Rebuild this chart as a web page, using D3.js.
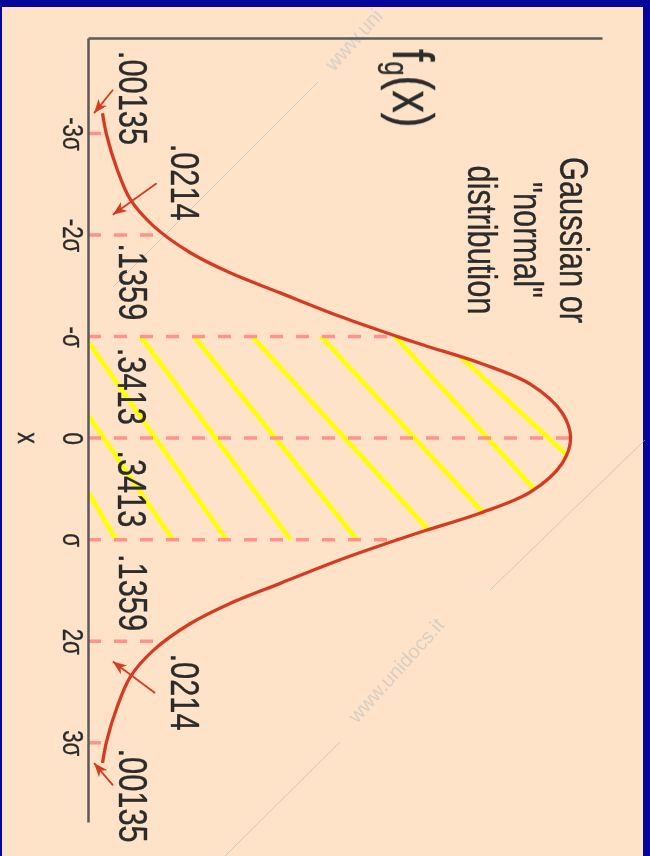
<!DOCTYPE html>
<html>
<head>
<meta charset="utf-8">
<script src="https://cdn.jsdelivr.net/npm/d3@7"></script>
<style>
html, body { margin: 0; padding: 0; background: #05059a; }
svg { display: block; }
text { font-family: "Liberation Sans", Arial, Helvetica, sans-serif; fill: #2b2b2b; stroke: #2b2b2b; stroke-width: 0.35; }
</style>
</head>
<body>
<svg id="chart" width="650" height="856"></svg>
<script>
// gaussian chart, drawn lying on its side (x runs down the page)

// x in units of sigma, f = density
var sigmaTicks = [-3, -2, -1, 0, 1, 2, 3];
var sigmaLabels = ["-3σ", "-2σ", "-σ", "0", "σ", "2σ", "3σ"];
var sigmaHeights = [0.0155, 0.057, 0.25, 0.399, 0.25, 0.057, 0.0155];

var curveX = [-3.2, -2.98, -2.65, -2.35, -2.09, -1.83, -1.63, -1.43, -1.2, -1.0, -0.91, -0.74,
              -0.53, -0.25, 0, 0.25, 0.53, 0.74, 0.91, 1.0, 1.2, 1.43, 1.63,
              1.83, 2.09, 2.35, 2.65, 2.98, 3.2];
var curveF = [0.012, 0.0155, 0.024, 0.035, 0.054, 0.084, 0.117, 0.159, 0.208, 0.256, 0.279, 0.324,
              0.366, 0.392, 0.399, 0.392, 0.366, 0.324, 0.279, 0.256, 0.208, 0.159, 0.117,
              0.084, 0.054, 0.035, 0.024, 0.0155, 0.012];

var bandLabels = [".00135", ".0214", ".1359", ".3413", ".3413", ".1359", ".0214", ".00135"];
var bandLabelX = [-3.35, -2.52, -1.54, -0.51, 0.50, 1.52, 2.50, 3.52];
var bandLabelF = [0.026, 0.069, 0.026, 0.025, 0.025, 0.026, 0.069, 0.026];

// yellow hatching, [x1, f1, x2, f2]
var hatchLines = [
    [-0.95, 0, 1.01, 0.115],
    [-0.23, 0, 1.01, 0.0705],
    [0.53, 0, 1.01, 0.0237],
    [-1.01, 0.043, 1.01, 0.168],
    [-1.01, 0.087, 1.01, 0.223],
    [-1.01, 0.135, 0.91, 0.282],
    [-1.01, 0.192, 0.75, 0.328],
    [-1.05, 0.25, 0.54, 0.372],
    [-0.835, 0.305, 0.19, 0.398]
];

// small red pointers to the tails, [x1, f1, x2, f2]
var pointers = [
    [-3.43, 0.0207, -3.2, 0.005],
    [-2.51, 0.0568, -2.2, 0.0205],
    [2.51, 0.0554, 2.2, 0.0205],
    [3.42, 0.0207, 3.2, 0.005]
];

var width = 650, height = 856;
var red = "#d43c22";
var textTf = " rotate(90) scale(0.77,1)";

var svg = d3.select("#chart");

// frame
svg.append("rect").attr("width", width).attr("height", height).attr("fill", "#05059a");
svg.append("rect").attr("x", 2).attr("y", 7).attr("width", 641).attr("height", height - 7)
    .attr("fill", "#fee3c9");

// faint watermark
var wm = svg.append("g").attr("opacity", 0.55);
wm.selectAll("line.wm")
    .data([[318, 82, 113, 287], [645, 440, 490, 590], [340, 742, 225, 856]])
    .enter().append("line")
    .attr("x1", d => d[0]).attr("y1", d => d[1]).attr("x2", d => d[2]).attr("y2", d => d[3])
    .attr("stroke", "#aab4c0").attr("stroke-width", 1);
wm.selectAll("text")
    .data([[334, 72, "www.uni"], [357, 724, "www.unidocs.it"]])
    .enter().append("text")
    .attr("transform", d => "translate(" + d[0] + "," + d[1] + ") rotate(-48)")
    .attr("font-size", 20)
    .style("fill", "#b9bec4").style("stroke", "none")
    .text(d => d[2]);

var y = d3.scaleLinear().domain([-3.94, 3.78]).range([38, 822]);
var f = d3.scaleLinear().domain([0, 0.425]).range([88, 602]);

var pts = curveX.map((d, i) => [d, curveF[i]]);

var line = d3.line()
    .x(d => f(d[1]))
    .y(d => y(d[0]))
    .curve(d3.curveCatmullRom);

var area = d3.area()
    .y(d => y(d[0]))
    .x0(f(0))
    .x1(d => f(d[1]))
    .curve(d3.curveCatmullRom);

var defs = svg.append("defs");
defs.append("clipPath").attr("id", "band")
    .append("rect")
    .attr("x", f(0)).attr("y", y(-1))
    .attr("width", f(0.425) - f(0)).attr("height", y(1) - y(-1));
defs.append("clipPath").attr("id", "under")
    .append("path").attr("d", area(pts));
defs.append("marker")
    .attr("id", "tip")
    .attr("viewBox", "0 -6 14 12")
    .attr("refX", 14).attr("refY", 0)
    .attr("markerWidth", 14).attr("markerHeight", 12)
    .attr("markerUnits", "userSpaceOnUse")
    .attr("orient", "auto")
    .append("path")
    .attr("d", "M0,-5.5L14,0L0,5.5L4,0Z")
    .attr("fill", red);

// hatching between -sigma and sigma
svg.append("g").attr("clip-path", "url(#band)")
    .append("g").attr("clip-path", "url(#under)")
    .selectAll("line")
    .data(hatchLines)
    .enter().append("line")
    .attr("x1", d => f(d[1])).attr("y1", d => y(d[0]))
    .attr("x2", d => f(d[3])).attr("y2", d => y(d[2]))
    .attr("stroke", "#ffff00")
    .attr("stroke-width", 4.5);

// dashed drops at each sigma
svg.append("g").selectAll("line")
    .data(sigmaTicks)
    .enter().append("line")
    .attr("x1", f(0)).attr("x2", (d, i) => f(sigmaHeights[i]))
    .attr("y1", d => y(d)).attr("y2", d => y(d))
    .attr("stroke", "#ff928a")
    .attr("stroke-width", 3.5)
    .attr("stroke-dasharray", "13,13");

// axes
var xAxis = d3.axisLeft(y)
    .tickValues(sigmaTicks)
    .tickFormat((d, i) => sigmaLabels[i])
    .tickSize(0)
    .tickSizeOuter(0);

svg.append("g")
    .attr("transform", "translate(" + f(0) + ",0)")
    .call(xAxis)
    .call(g => g.select(".domain").attr("stroke", "#5a5a5a").attr("stroke-width", 2.5))
    .call(g => g.selectAll("text")
        .attr("x", null).attr("dy", null)
        .attr("font-size", 29)
        .attr("text-anchor", "middle")
        .attr("transform", "translate(-25,0)" + textTf));

var fAxis = d3.axisTop(f).tickValues([]).tickSizeOuter(0);
svg.append("g")
    .attr("transform", "translate(0," + y.range()[0] + ")")
    .call(fAxis)
    .call(g => g.select(".domain").attr("stroke", "#5a5a5a").attr("stroke-width", 2.5));

// the curve
svg.append("path")
    .attr("d", line(pts))
    .attr("fill", "none")
    .attr("stroke", red)
    .attr("stroke-width", 3.3);

// pointers
svg.append("g").selectAll("line")
    .data(pointers)
    .enter().append("line")
    .attr("x1", d => f(d[1])).attr("y1", d => y(d[0]))
    .attr("x2", d => f(d[3])).attr("y2", d => y(d[2]))
    .attr("stroke", red)
    .attr("stroke-width", 1.8)
    .attr("marker-end", "url(#tip)");

// band probabilities
svg.append("g").selectAll("text")
    .data(bandLabels)
    .enter().append("text")
    .attr("transform", (d, i) => "translate(" + f(bandLabelF[i]) + "," + y(bandLabelX[i]) + ")" + textTf)
    .attr("text-anchor", "middle")
    .attr("font-size", 40)
    .text(d => d);

// axis title x
svg.append("text")
    .attr("transform", "translate(18," + y(0) + ")" + textTf)
    .attr("text-anchor", "middle")
    .attr("font-size", 30)
    .text("x");

// f_g(x)
var title = svg.append("text")
    .attr("transform", "translate(393,49)" + textTf)
    .attr("font-size", 58);
title.append("tspan").text("f");
title.append("tspan").attr("font-size", 33).attr("dy", 8).text("g");
title.append("tspan").attr("dy", -8).text("(x)");

// description
var desc = ["Gaussian or", "\"normal\"", "distribution"];
var descBase = [560, 514, 468];
svg.append("g").selectAll("text")
    .data(desc)
    .enter().append("text")
    .attr("transform", (d, i) => "translate(" + descBase[i] + ",240)" + textTf)
    .attr("text-anchor", "middle")
    .attr("font-size", 40)
    .text(d => d);
</script>
</body>
</html>
